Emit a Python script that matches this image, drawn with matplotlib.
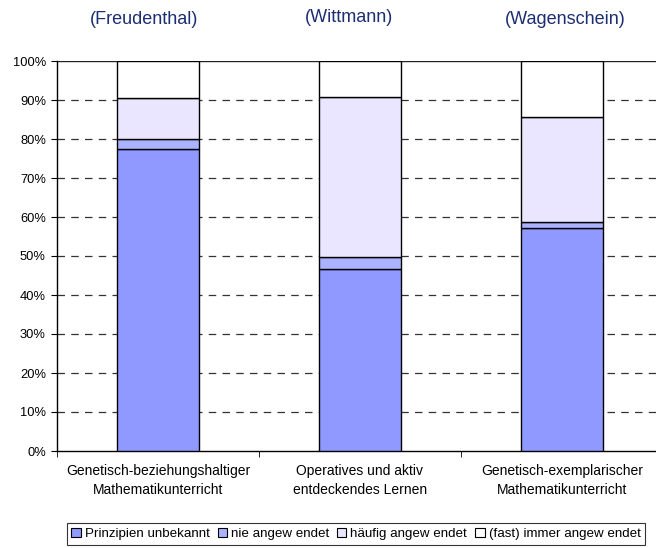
import matplotlib.pyplot as plt
import numpy as np

plt.rcParams['font.family'] = ['Liberation Sans', 'DejaVu Sans']

categories = ["Genetisch-beziehungshaltiger\nMathematikunterricht",
              "Operatives und aktiv\nentdeckendes Lernen",
              "Genetisch-exemplarischer\nMathematikunterricht"]
authors = ["(Freudenthal)", "(Wittmann)", "(Wagenschein)"]
series = ["Prinzipien unbekannt", "nie angew endet",
          "häufig angew endet", "(fast) immer angew endet"]

# shares in percent, per category
unbekannt = [77.5, 46.7, 57.3]
nie = [2.4, 3.0, 1.3]
haeufig = [10.5, 41.1, 27.0]
immer = [9.6, 9.2, 14.4]

colors = ["#8F99FF", "#ABB2FF", "#EAE6FF", "#FFFFFF"]

# author captions sit above the plot, not quite centred on the bars
AUTHOR_X = [143.6, 349.0, 565.5]
AUTHOR_Y = [20, 18, 19]


def main():
    fig = plt.figure(figsize=(6.56, 5.48), dpi=100)
    ax = fig.add_axes([57 / 656, 97 / 548, 606 / 656, 390 / 548])

    x = np.arange(len(categories))
    bottom = np.zeros(len(categories))
    for name, vals, col in zip(series, [unbekannt, nie, haeufig, immer], colors):
        vals = np.array(vals)
        ax.bar(x, vals, 0.405, bottom=bottom, color=col, edgecolor="black",
               linewidth=1.0, label=name, zorder=3)
        bottom += vals

    ax.set_xlim(-0.5, 2.5)
    ax.set_ylim(0, 100)
    ax.set_yticks(np.arange(0, 101, 10))
    ax.set_yticklabels(["{}%".format(v) for v in range(0, 101, 10)],
                       fontsize=9.3)
    for v in range(10, 100, 10):
        ax.axhline(v, color="#333333", linestyle=(0, (6, 5)), linewidth=0.9,
                   zorder=1)
    ax.axhline(100, color="#222222", linewidth=1.0, zorder=1)

    ax.set_xticks(x)
    ax.set_xticklabels(categories, fontsize=10, linespacing=1.5)
    ax.set_xticks([-0.5, 0.5, 1.5, 2.5], minor=True)
    ax.tick_params(axis="x", which="major", length=0, pad=9)
    ax.tick_params(axis="x", which="minor", length=4, direction="out")
    ax.tick_params(axis="y", length=4, direction="out", pad=4)

    for side in ["top", "right"]:
        ax.spines[side].set_visible(False)
    ax.spines["left"].set_linewidth(1.0)
    ax.spines["bottom"].set_linewidth(1.0)

    for px, py, name in zip(AUTHOR_X, AUTHOR_Y, authors):
        fig.text(px / 656, 1 - py / 548, name, ha="center", va="center",
                 fontsize=13, color="#1C2E72")

    leg = fig.legend(loc="center left", bbox_to_anchor=(60 / 656, 1 - 534 / 548),
                     ncol=4, fontsize=9.6, frameon=True, fancybox=False,
                     edgecolor="black", handlelength=0.7, handleheight=0.7,
                     handletextpad=0.3, columnspacing=0.6, borderpad=0.35)
    leg.get_frame().set_linewidth(0.8)
    for h in leg.legend_handles:
        h.set_linewidth(0.8)

    fig.savefig("out.png", dpi=100)


if __name__ == "__main__":
    main()
